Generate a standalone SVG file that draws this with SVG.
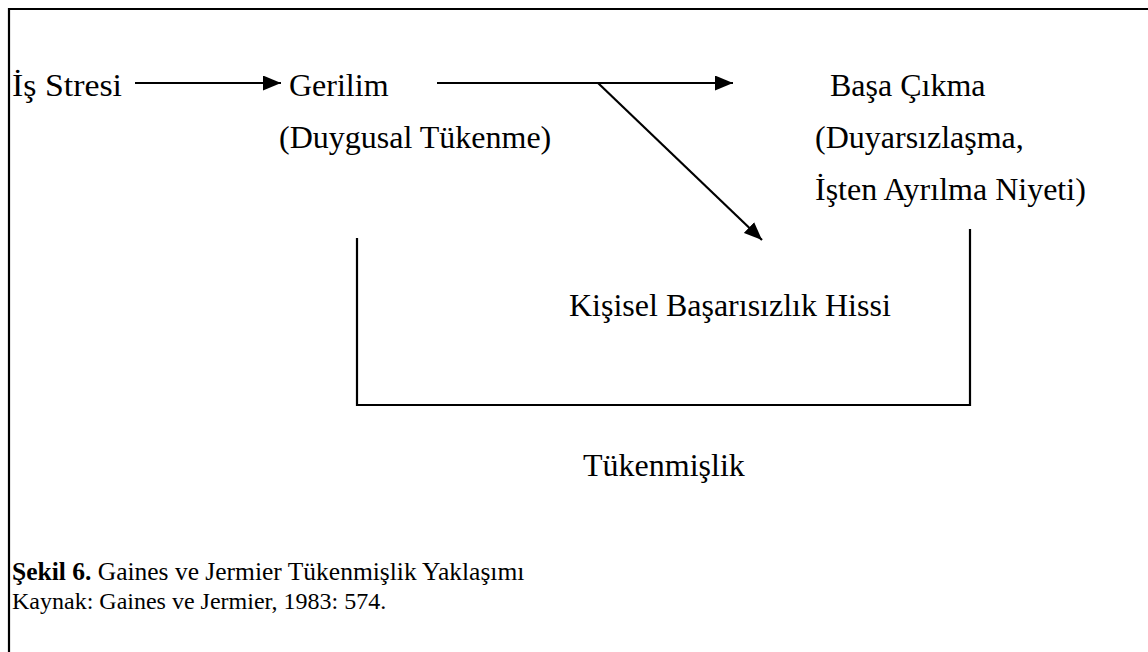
<svg xmlns="http://www.w3.org/2000/svg" width="1148" height="652" viewBox="0 0 1148 652">
<style>
.t{font-family:"Liberation Serif","Times New Roman",serif;font-size:32px;fill:#000}
.c{font-family:"Liberation Serif","Times New Roman",serif;font-size:25.5px;fill:#000}
.k{font-family:"Liberation Serif","Times New Roman",serif;font-size:24px;fill:#000}
.ln{stroke:#000;stroke-width:2.2;fill:none}
</style>
<defs>
<marker id="ah" markerUnits="userSpaceOnUse" markerWidth="19" markerHeight="15" refX="18" refY="7.5" orient="auto">
<path d="M0,0 L18,7.5 L0,15 Z" fill="#000"/>
</marker>
</defs>
<rect width="1148" height="652" fill="#fff"/>
<path class="ln" d="M9,652 L9,9 L1148,9"/>
<g id="n-is-stresi"><text class="t" x="12" y="96" textLength="110" lengthAdjust="spacingAndGlyphs">İş Stresi</text></g>
<g id="n-gerilim"><text class="t" x="289" y="96">Gerilim</text><text class="t" x="279" y="148">(Duygusal Tükenme)</text></g>
<g id="n-basa-cikma"><text class="t" x="830" y="96">Başa Çıkma</text><text class="t" x="815" y="148">(Duyarsızlaşma,</text><text class="t" x="815" y="200">İşten Ayrılma Niyeti)</text></g>
<g id="n-kisisel"><text class="t" x="569" y="316">Kişisel Başarısızlık Hissi</text></g>
<g id="n-tukenmislik"><text class="t" x="583" y="476">Tükenmişlik</text></g>
<g id="connectors">
<line class="ln" x1="135" y1="83" x2="281" y2="83" marker-end="url(#ah)"/>
<line class="ln" x1="437" y1="83" x2="733" y2="83" marker-end="url(#ah)"/>
<line class="ln" x1="598" y1="83" x2="762" y2="240" marker-end="url(#ah)"/>
<path class="ln" d="M357,238 L357,405 L970,405 L970,229"/>
</g>
<g id="caption">
<text class="c" x="12" y="580"><tspan font-weight="bold">Şekil 6.</tspan> Gaines ve Jermier Tükenmişlik Yaklaşımı</text>
<text class="k" x="12" y="609">Kaynak: Gaines ve Jermier, 1983: 574.</text>
</g>
</svg>
